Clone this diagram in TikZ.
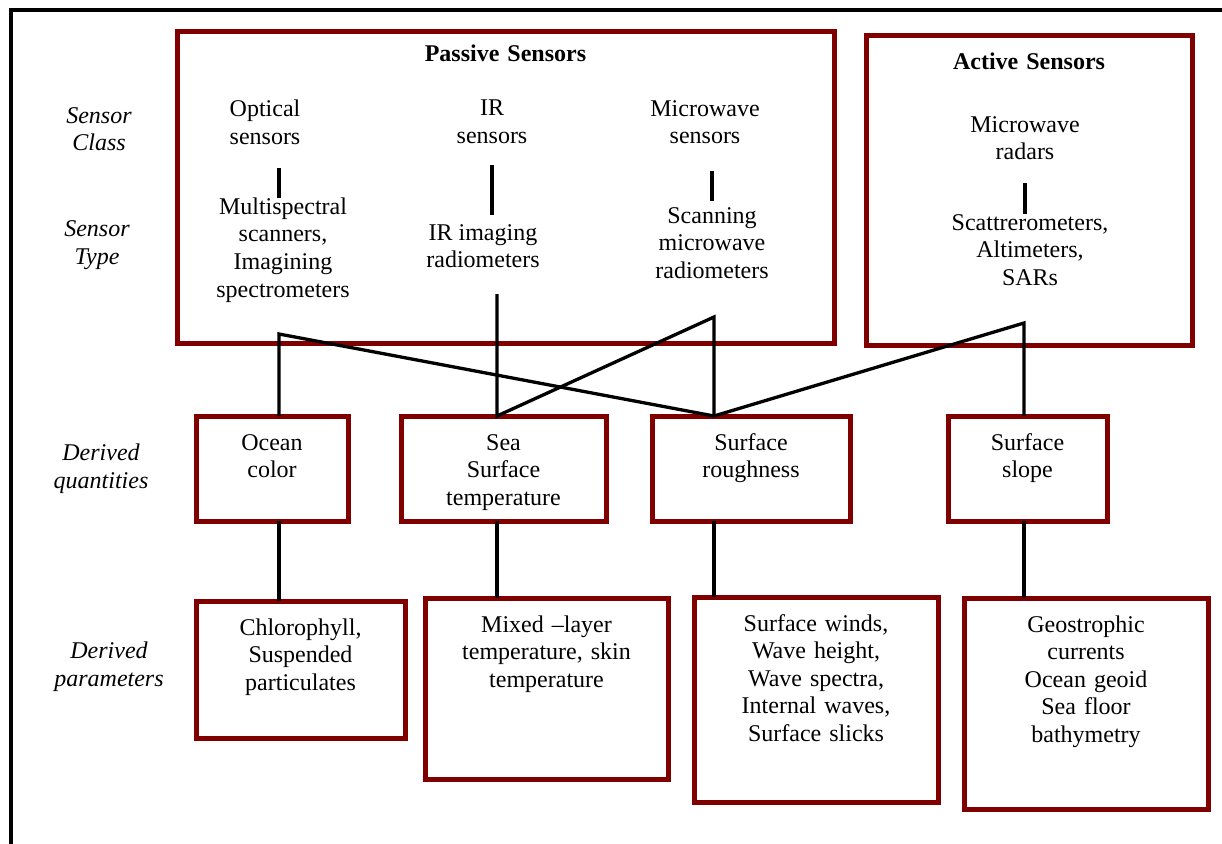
\documentclass[tikz,border=0pt]{standalone}
\usepackage{fontspec}
\setmainfont{Liberation Serif}
\usepackage{xcolor}
\usepackage{tikz}
\definecolor{boxred}{HTML}{800000}

\begin{document}
\begin{tikzpicture}[
    x=1pt, y=-1pt,
    every node/.style={font=\fontsize{24}{27.6}\selectfont},
    box/.style={rectangle, draw=boxred, line width=5pt, anchor=north west, align=center, inner sep=0pt, outer sep=0pt, text height=34pt},
    txt/.style={align=center, inner sep=0pt},
    side/.style={align=center, inner sep=0pt, font=\fontsize{24}{27.6}\selectfont\itshape},
    link/.style={draw=black, line width=3.3pt}
]
\useasboundingbox (0,0) rectangle (1222,843);
\draw[line width=4pt] (11,850) -- (11,10.5) -- (1230,10.5);

\node[side] (lclass) at (99,129) {Sensor\\Class};
\node[side] (ltype) at (97,245) {Sensor\\Type};
\node[side] (lquant) at (101,469) {Derived\\quantities};
\node[side] (lparam) at (109,667) {Derived\\parameters};

\node[box, text width=657pt, text height=29pt, text depth=282pt] (passive) at (177,32) {\textbf{Passive Sensors}};
\node[box, text width=326pt, text depth=275pt] (active) at (866,36) {\textbf{Active Sensors}};

\node[txt] (optical) at (265,122) {Optical\\sensors};
\node[txt] (ir) at (492,122) {IR\\sensors};
\node[txt] (mw) at (705,122) {Microwave\\sensors};
\node[txt] (multi) at (283,250) {Multispectral\\scanners,\\Imagining\\spectrometers};
\node[txt] (irimg) at (483,246) {IR imaging\\radiometers};
\node[txt] (scan) at (712,243) {Scanning\\microwave\\radiometers};
\node[txt] (radar) at (1025,138) {Microwave\\radars};
\node[txt] (scat) at (1030,250) {Scattrerometers,\\Altimeters,\\SARs};

\node[box, text width=152pt, text depth=71pt] (ocean) at (196,416) {Ocean\\color};
\node[box, text width=205pt, text depth=71pt] (sst) at (401,416) {Sea\\Surface\\temperature};
\node[box, text width=198pt, text depth=71pt] (rough) at (652,416) {Surface\\roughness};
\node[box, text width=159pt, text depth=71pt] (slope) at (948,416) {Surface\\slope};

\node[box, text width=209pt, text depth=103pt] (chl) at (196,601) {Chlorophyll,\\Suspended\\particulates};
\node[box, text width=243pt, text depth=147pt] (mixed) at (425,598) {Mixed \textendash layer\\temperature, skin\\temperature};
\node[box, text width=244pt, text depth=171pt] (winds) at (694,597) {Surface winds,\\Wave height,\\Wave spectra,\\Internal waves,\\Surface slicks};
\node[box, text width=244pt, text depth=177pt] (geo) at (964,598) {Geostrophic\\currents\\Ocean geoid\\Sea floor\\bathymetry};

\coordinate (jopt) at (279,334);
\coordinate (irtop) at (497,294);
\coordinate (jmw) at (714,317);
\coordinate (jact) at (1024,323);

\draw[link, shorten <=24pt] (optical.south -| jopt) -- (multi.north -| jopt);
\draw[link, shorten <=21pt, shorten >=9pt] (ir.south) -- (irimg.north -| ir.south);
\draw[link, shorten <=27pt, shorten >=6pt] (mw.south -| scan.north) -- (scan.north);
\draw[link, shorten <=23pt] (radar.south) -- (scat.north -| radar.south);

\draw[link] (ocean.north -| jopt) -- (jopt) -- (rough.north -| jmw);
\draw[link] (irtop) -- (sst.north -| irtop) -- (jmw) -- (rough.north -| jmw);
\draw[link] (rough.north -| jmw) -- (jact) -- (slope.north -| jact);

\draw[link] (ocean.south -| jopt) -- (chl.north -| jopt);
\draw[link] (sst.south -| irtop) -- (mixed.north -| irtop);
\draw[link] (rough.south -| jmw) -- (winds.north -| jmw);
\draw[link] (slope.south -| jact) -- (geo.north -| jact);
\end{tikzpicture}
\end{document}
